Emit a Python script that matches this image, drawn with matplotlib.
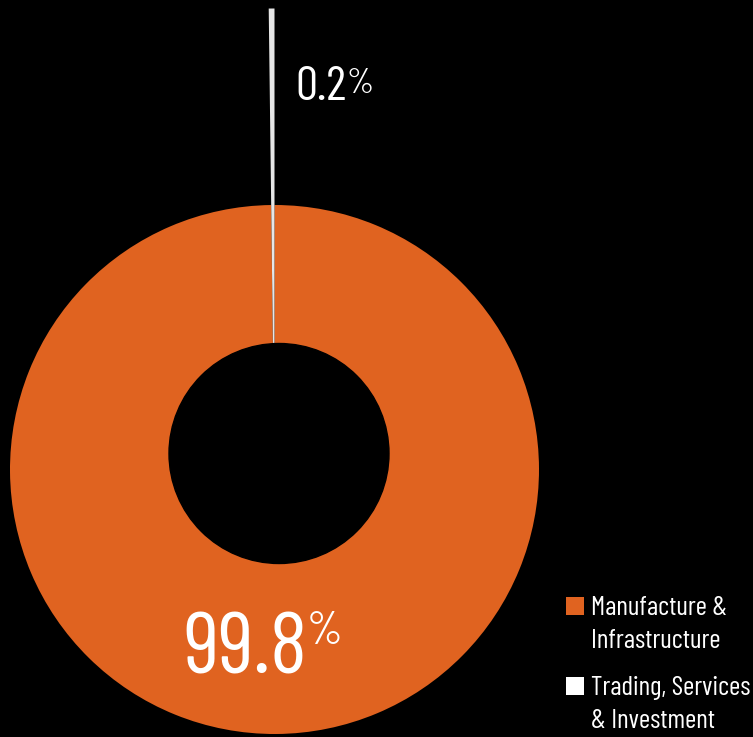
import matplotlib
matplotlib.use("Agg")
import matplotlib.pyplot as plt
from matplotlib.patches import Circle, Rectangle

# data
sectors = ["Manufacture &\nInfrastructure", "Trading, Services\n& Investment"]
shares = [99.8, 0.2]
slice_colours = ["#E06320", "#E6E6E6"]
legend_colours = ["#E06320", "#FFFFFF"]
share_labels = ["99.8", "0.2"]

plt.rcParams['font.family'] = ['Barlow Condensed', 'Roboto Condensed', 'DejaVu Sans']
plt.rcParams['font.weight'] = 400

W, H = 753, 737
fig = plt.figure(figsize=(W / 100, H / 100), dpi=100, facecolor="black")
ax = fig.add_axes([0, 0, 1, 1])
ax.set_facecolor("black")

ctr = (274.5, 267.5)
# orange ring, the small slice left empty
ax.pie([shares[1], shares[0]], colors=["none", slice_colours[0]], radius=264.5,
       center=ctr, startangle=90, wedgeprops=dict(linewidth=0))
# the small slice, drawn long
ax.pie([shares[1], shares[0]], colors=[slice_colours[1], "none"], radius=461,
       center=ctr, startangle=90, wedgeprops=dict(linewidth=0))
ax.add_patch(Circle((279, 283.5), 110, color="black", zorder=5))

ax.set_xlim(0, W)
ax.set_ylim(0, H)
ax.set_aspect("equal")
ax.axis("off")

# percentage labels with superscript %
def pct_label(x, y, txt, fs, fs_pct, dx_pct, dy_pct):
    t = ax.text(x, y, txt, fontsize=fs, color="white", ha="left", va="baseline", zorder=6)
    fig.canvas.draw()
    bb = t.get_window_extent()
    ax.text(bb.x1 + dx_pct, y + dy_pct, "%", fontsize=fs_pct, color="white",
            ha="left", va="baseline", zorder=6)

pct_label(295, H - 100, share_labels[1], 35.5, 25, 0, 7)
pct_label(183, H - 673, share_labels[0], 63, 33, 0, 29)

# legend
ys = [H - 615, H - 695]
for lab, col, y in zip(sectors, legend_colours, ys):
    ax.add_patch(Rectangle((566, y), 18, 18, color=col, lw=0))
    for i, ln in enumerate(lab.split("\n")):
        ax.text(591, y - i * 32.5, ln, fontsize=19.6, color="white", ha="left", va="baseline")

fig.savefig("out.png", dpi=100, facecolor="black")
